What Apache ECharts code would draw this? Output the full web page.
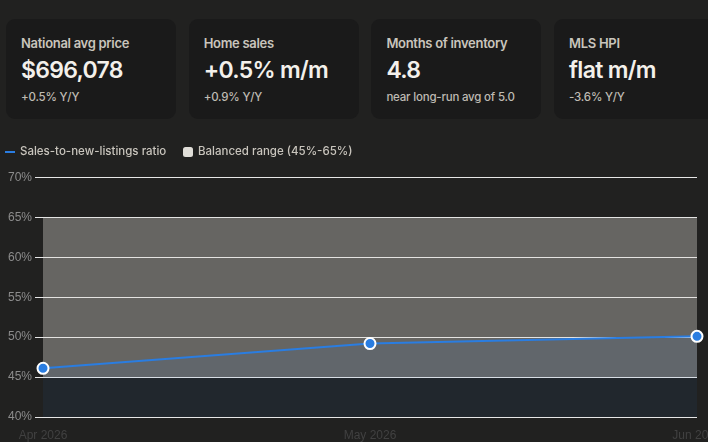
<!DOCTYPE html>
<html>
<head>
<meta charset="utf-8">
<script src="https://cdn.jsdelivr.net/npm/echarts@6/dist/echarts.min.js"></script>
<style>
  html, body { margin:0; padding:0; width:708px; height:442px; overflow:hidden; background:#212120; }
  .cards { position:absolute; top:19px; left:6px; width:760px; height:100px; }
  .card { position:absolute; top:0; width:170px; height:100px; background:#1a1a1a; border-radius:9px; box-sizing:border-box; padding-left:15px; font-family:Inter, "Noto Sans", sans-serif; }
  .t { position:absolute; top:16px; font-size:13px; color:#c9c5bd; font-weight:600; letter-spacing:-0.3px; }
  .v { position:absolute; top:37px; font-size:23px; color:#f3f0eb; font-weight:600; letter-spacing:-0.7px; }
  .s { position:absolute; top:71px; font-size:11.5px; color:#bfbbb3; font-weight:500; letter-spacing:-0.2px; }
  #chart { position:absolute; left:0; top:140px; width:708px; height:302px; }
</style>
</head>
<body>
<div class="cards" id="cards"></div>
<div id="chart"></div>
<script>
const cardTitles = ["National avg price", "Home sales", "Months of inventory", "MLS HPI"];
const cardValues = ["$696,078", "+0.5% m/m", "4.8", "flat m/m"];
const cardNotes = ["+0.5% Y/Y", "+0.9% Y/Y", "near long-run avg of 5.0", "-3.6% Y/Y"];

const categories = ["Apr 2026", "May 2026", "Jun 2026"];
const ratioValues = [46.1, 49.2, 50.1];
const balancedRange = [45, 65];
const yTicks = [40, 45, 50, 55, 60, 65, 70];
const seriesNames = ["Sales-to-new-listings ratio", "Balanced range (45%-65%)"];

const cardsEl = document.getElementById('cards');
cardTitles.forEach((t, i) => {
  const c = document.createElement('div');
  c.className = 'card';
  c.style.left = (i * 182.7) + 'px';
  c.innerHTML = '<div class="t"></div><div class="v"></div><div class="s"></div>';
  c.querySelector('.t').textContent = t;
  c.querySelector('.v').textContent = cardValues[i];
  c.querySelector('.s').textContent = cardNotes[i];
  cardsEl.appendChild(c);
});

const legendText = { color: '#c9c5bd', fontSize: 11.5, fontWeight: 500, fontFamily: 'Inter, "Noto Sans", sans-serif' };
const chart = echarts.init(document.getElementById('chart'), null, { renderer: 'canvas' });
chart.setOption({
  animation: false,
  backgroundColor: 'transparent',
  textStyle: { fontFamily: '"Liberation Sans", Arial, sans-serif' },
  legend: [
    {
      left: 5, top: 6, padding: 0, icon: 'rect', itemWidth: 10, itemHeight: 2,
      data: [seriesNames[0]],
      itemStyle: { borderWidth: 0, color: '#2a7de1' },
      lineStyle: { width: 0 },
      textStyle: legendText
    },
    {
      left: 183, top: 6, padding: 0, icon: 'roundRect', itemWidth: 10, itemHeight: 10,
      data: [seriesNames[1]],
      itemStyle: { borderWidth: 0 },
      textStyle: legendText
    }
  ],
  grid: { left: 43, right: 11, top: 37.5, bottom: 25, containLabel: false, outerBoundsMode: 'none' },
  xAxis: {
    type: 'category', boundaryGap: false, data: categories,
    axisLine: { show: false }, axisTick: { show: false },
    axisLabel: { color: '#414141', fontSize: 12, margin: 13 }
  },
  yAxis: {
    type: 'value', min: yTicks[0], max: yTicks[yTicks.length - 1], interval: 5,
    axisLine: { show: false },
    axisTick: { show: true, length: 8, lineStyle: { color: '#e6e6e6' } },
    axisLabel: { color: '#8c8c8c', fontSize: 12, margin: 11, formatter: '{value}%' },
    splitLine: { lineStyle: { color: '#e6e6e6', width: 1 } }
  },
  series: [
    {
      name: seriesNames[0], type: 'line', data: ratioValues,
      color: '#2a7de1', z: 3,
      lineStyle: { width: 2, color: '#2a7de1' },
      symbol: 'circle', symbolSize: 11, showSymbol: true,
      itemStyle: { color: '#2a7de1', borderColor: '#ffffff', borderWidth: 2 },
      areaStyle: { color: 'rgba(42,125,225,0.10)' },
      markArea: {
        silent: true,
        itemStyle: { color: 'rgba(224,222,216,0.36)' },
        data: [[{ yAxis: balancedRange[0] }, { yAxis: balancedRange[1] }]]
      }
    },
    {
      name: seriesNames[1], type: 'line', data: [],
      color: '#e0ded8', itemStyle: { color: '#e0ded8' }
    }
  ]
});
</script>
</body>
</html>
